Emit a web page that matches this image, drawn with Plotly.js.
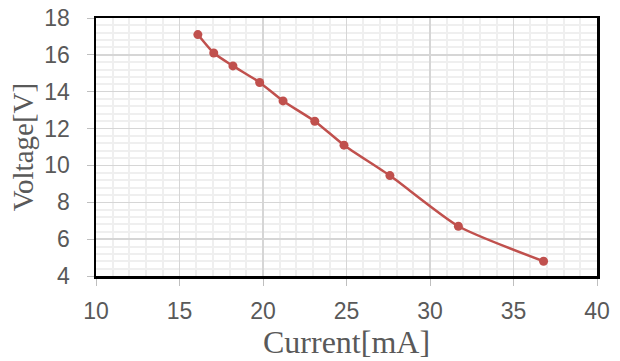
<!DOCTYPE html>
<html><head><meta charset="utf-8">
<script src="https://cdn.plot.ly/plotly-3.0.1.min.js"></script>
<style>html,body{margin:0;padding:0;background:#fff;}#chart{width:620px;height:361px;}</style>
</head><body><div id="chart"></div>
<script>
const currentMA = [16.1, 17.05, 18.2, 19.8, 21.2, 23.1, 24.85, 27.6, 31.7, 36.8];
const voltageV = [17.1, 16.1, 15.4, 14.5, 13.5, 12.4, 11.1, 9.45, 6.7, 4.8];
const xTitle = 'Current[mA]';
const yTitle = 'Voltage[V]';

const tickFont = {family: 'Liberation Sans, Arial, sans-serif', size: 23, color: '#595959'};
const xTitleFont = {family: 'Liberation Serif, Times New Roman, serif', size: 32, color: '#595959'};
const yTitleFont = {family: 'Liberation Serif, Times New Roman, serif', size: 29, color: '#595959'};

const trace = {
  x: currentMA, y: voltageV, type: 'scatter', mode: 'lines+markers',
  line: {color: '#c0504d', width: 2.5, shape: 'spline', smoothing: 0.6},
  marker: {color: '#c0504d', size: 9}
};
const layout = {
  width: 620, height: 361,
  margin: {l: 96, r: 23, t: 18, b: 85},
  paper_bgcolor: '#fff', plot_bgcolor: '#fff',
  showlegend: false,
  xaxis: {
    range: [10, 40], dtick: 5, tick0: 10,
    showline: true, mirror: true, linecolor: '#000', linewidth: 2.5,
    showgrid: true, gridcolor: '#d6d6d6', gridwidth: 1.3,
    minor: {dtick: 1, showgrid: true, gridcolor: '#efefef', gridwidth: 2},
    ticks: 'outside', ticklen: 7, tickcolor: '#bfbfbf', ticklabelstandoff: 6,
    tickfont: tickFont, zeroline: false,
    title: {text: xTitle, font: xTitleFont, standoff: 6}
  },
  yaxis: {
    range: [4, 18], dtick: 2, tick0: 4,
    showline: true, mirror: true, linecolor: '#000', linewidth: 2.5,
    showgrid: true, gridcolor: '#d6d6d6', gridwidth: 1.3,
    minor: {dtick: 0.4, showgrid: true, gridcolor: '#efefef', gridwidth: 2},
    ticks: 'outside', ticklen: 7, tickcolor: '#bfbfbf', ticklabelstandoff: 12,
    tickfont: tickFont, zeroline: false,
    title: {text: yTitle, font: yTitleFont, standoff: 2}
  }
};
Plotly.newPlot('chart', [trace], layout, {displayModeBar: false, staticPlot: true});
</script></body></html>
